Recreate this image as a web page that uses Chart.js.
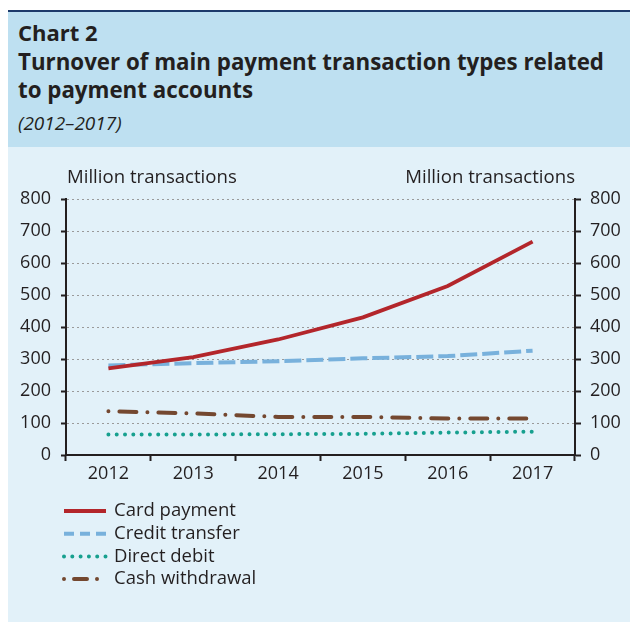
<!DOCTYPE html>
<html>
<head>
<meta charset="utf-8">
<script src="https://cdn.jsdelivr.net/npm/chart.js@4.4.0/dist/chart.umd.min.js"></script>
<style>
  html, body { margin: 0; padding: 0; background: #ffffff; }
  body { width: 630px; height: 622px; position: relative; overflow: hidden; font-family: "Open Sans", sans-serif; }
  #frame { position: absolute; left: 8px; top: 10px; width: 622px; height: 612px; border-top: 2px solid #1d3a6b; box-sizing: border-box; }
  #header { position: absolute; left: 0; top: 0; width: 622px; height: 135px; background: #bee0f1; }
  #panel { position: absolute; left: 0; top: 135px; width: 622px; height: 477px; background: #e2f1f9; }
  .t { position: absolute; left: 10px; color: #231f20; white-space: nowrap; line-height: 1.36; }
  #c2 { top: 6px; font-weight: bold; font-size: 22px; }
  #t1 { top: 35px; font-weight: bold; font-size: 22.3px; }
  #t2 { top: 63px; font-weight: bold; font-size: 22.3px; }
  #sub { top: 99px; font-style: italic; font-size: 19px; }
  #wrap { position: absolute; left: 0; top: 0; width: 622px; height: 477px; }
</style>
</head>
<body>
<div id="frame">
  <div id="header">
    <div class="t" id="c2">Chart 2</div>
    <div class="t" id="t1">Turnover of main payment transaction types related</div>
    <div class="t" id="t2">to payment accounts</div>
    <div class="t" id="sub">(2012–2017)</div>
  </div>
  <div id="panel">
    <div id="wrap"><canvas id="chart" width="622" height="477"></canvas></div>
  </div>
</div>
<script>
const years = ["2012", "2013", "2014", "2015", "2016", "2017"];
const cardPayment = [271, 306, 361, 430, 528, 667];
const creditTransfer = [280, 287, 293, 302, 309, 326];
const directDebit = [64, 64, 65, 66, 70, 73];
const cashWithdrawal = [137, 130, 119, 119, 114, 114];
const yTicks = [0, 100, 200, 300, 400, 500, 600, 700, 800];
const axisTitle = "Million transactions";

const FONT = '"Open Sans", sans-serif';
const TXT = '#231f20';

const seriesDefs = [
  { label: "Card payment", data: cardPayment, color: "#b3262b", width: 3.8, dash: [], cap: 'butt', legendDash: [] },
  { label: "Credit transfer", data: creditTransfer, color: "#78b1dc", width: 4, dash: [17, 5], cap: 'butt', legendDash: [10, 6] },
  { label: "Direct debit", data: directDebit, color: "#17a08f", width: 4, dash: [0, 8.3], cap: 'round', legendDash: [0, 8.3] },
  { label: "Cash withdrawal", data: cashWithdrawal, color: "#744830", width: 4, dash: [0, 11, 17, 11], cap: 'round', legendDash: [0, 10, 13, 10] }
];

const overlay = {
  id: 'overlay',
  afterDraw(chart) {
    const ctx = chart.ctx;
    const area = chart.chartArea;
    ctx.save();
    ctx.fillStyle = TXT;
    ctx.font = '18.6px ' + FONT;
    ctx.textBaseline = 'middle';
    ctx.textAlign = 'left';
    ctx.fillText(axisTitle, area.left + 1, 31);
    ctx.textAlign = 'right';
    ctx.fillText(axisTitle, area.right, 31);
    // legend
    const x0 = 56, x1 = 98, tx = 106, y0 = 364, step = 22.7;
    chart.data.datasets.forEach((ds, i) => {
      const def = seriesDefs[i];
      const y = y0 + i * step;
      ctx.beginPath();
      ctx.lineWidth = def.width;
      ctx.strokeStyle = ds.borderColor;
      ctx.lineCap = def.cap;
      ctx.setLineDash(def.legendDash);
      ctx.moveTo(x0, y);
      ctx.lineTo(x1, y);
      ctx.stroke();
      ctx.setLineDash([]);
      ctx.fillStyle = TXT;
      ctx.textAlign = 'left';
      ctx.font = '18.5px ' + FONT;
      ctx.fillText(ds.label, tx, y);
    });
    ctx.restore();
  }
};

new Chart(document.getElementById('chart'), {
  type: 'line',
  data: {
    labels: years,
    datasets: seriesDefs.map(d => ({
      label: d.label,
      data: d.data,
      borderColor: d.color,
      backgroundColor: d.color,
      borderWidth: d.width,
      borderDash: d.dash,
      borderCapStyle: d.cap,
      pointRadius: 0,
      tension: 0,
      fill: false,
      yAxisID: 'y'
    }))
  },
  options: {
    responsive: false,
    animation: false,
    layout: { padding: { left: 0, right: 0, top: 52, bottom: 139 } },
    plugins: { legend: { display: false }, tooltip: { enabled: false }, title: { display: false } },
    scales: {
      x: {
        type: 'category',
        offset: true,
        grid: { offset: true, drawOnChartArea: false, drawTicks: true, tickLength: 6, tickColor: '#231f20', tickWidth: 2 },
        border: { display: true, color: '#231f20', width: 2 },
        ticks: { color: TXT, font: { family: FONT, size: 18 }, padding: 2, maxRotation: 0 },
        afterFit(s) { s.height = 30; }
      },
      y: {
        position: 'left',
        min: 0, max: 800,
        afterBuildTicks(s) { s.ticks = yTicks.map(v => ({ value: v })); },
        grid: { color: '#9a9a9a', lineWidth: 1, drawTicks: true, tickLength: 5, tickColor: '#231f20', tickWidth: 2, tickBorderDash: [] },
        border: { display: true, color: '#231f20', width: 2, dash: [2, 3] },
        ticks: { color: TXT, font: { family: FONT, size: 18 }, padding: 10 },
        afterFit(s) { s.width = 58; }
      },
      y2: {
        position: 'right',
        min: 0, max: 800,
        afterBuildTicks(s) { s.ticks = yTicks.map(v => ({ value: v })); },
        grid: { drawOnChartArea: false, drawTicks: true, tickLength: 6, tickColor: '#231f20', tickWidth: 2 },
        border: { display: true, color: '#231f20', width: 2 },
        ticks: { color: TXT, font: { family: FONT, size: 18 }, padding: 9 },
        afterFit(s) { s.width = 55; }
      }
    }
  },
  plugins: [overlay]
});
</script>
</body>
</html>
